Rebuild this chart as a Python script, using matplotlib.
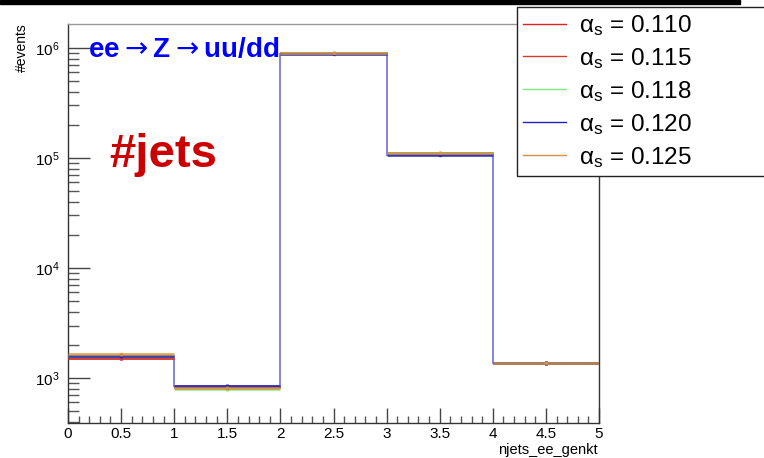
import numpy as np
import matplotlib
matplotlib.use("Agg")
import matplotlib.pyplot as plt
from matplotlib.patches import Rectangle
from matplotlib.ticker import FixedLocator, LogLocator, MultipleLocator, NullFormatter

plt.rcParams['font.family'] = ['Liberation Sans', 'DejaVu Sans']
plt.rcParams['mathtext.fontset'] = 'custom'
plt.rcParams['mathtext.rm'] = 'Liberation Sans'
plt.rcParams['mathtext.it'] = 'Liberation Sans'
plt.rcParams['mathtext.bf'] = 'Liberation Sans:bold'

# ---- data ----
bin_edges = [0, 1, 2, 3, 4, 5]
alpha_labels = ["0.110", "0.115", "0.118", "0.120", "0.125"]
counts_0110 = [1520, 830, 890000, 110000, 1370]
counts_0115 = [1530, 820, 890000, 110000, 1370]
counts_0118 = [1600, 800, 890000, 110000, 1370]
counts_0120 = [1590, 845, 885000, 107000, 1370]
counts_0125 = [1640, 810, 890000, 111000, 1380]
errors = [60, 40, 2500, 800, 45]
x_tick_labels = ["0", "0.5", "1", "1.5", "2", "2.5", "3", "3.5", "4", "4.5", "5"]
y_tick_labels = [r"$10^{3}$", r"$10^{4}$", r"$10^{5}$", r"$10^{6}$"]

series = [counts_0110, counts_0115, counts_0118, counts_0120, counts_0125]
colors = ["#e02020", "#d83a2a", "#7ee87e", "#2020c0", "#d4923e"]

W, H = 764, 458
fig = plt.figure(figsize=(W / 100, H / 100), dpi=100)
ax = fig.add_axes([68 / W, 1 - 423 / H, (599 - 68) / W, (423 - 24) / H])

edges = np.array(bin_edges, dtype=float)
centers = 0.5 * (edges[:-1] + edges[1:])
halfw = 0.5 * np.diff(edges)

handles = []
for i in range(len(series)):
    vals = np.array(series[i], dtype=float)
    c = colors[i]
    if i == 3:
        ax.stairs(vals, edges, baseline=None, color=c, lw=1.4, alpha=0.55, zorder=2)
    ax.errorbar(centers, vals, xerr=halfw, yerr=errors, fmt='s', ms=1.5,
                color=c, ecolor=c, elinewidth=2.0, capsize=0, alpha=0.8,
                zorder=3 + i)
    h, = ax.plot([], [], color=c, lw=1.0)
    handles.append(h)

ax.set_yscale('log')
ax.set_xlim(0, 5)
ax.set_ylim(390, 1.65e6)

ax.set_xticks(np.arange(0, 5.01, 0.5))
ax.set_xticklabels(x_tick_labels)
ax.xaxis.set_minor_locator(MultipleLocator(0.1))
ax.yaxis.set_major_locator(FixedLocator([1e3, 1e4, 1e5, 1e6]))
ax.set_yticklabels(y_tick_labels)
ax.yaxis.set_minor_locator(LogLocator(base=10, subs=np.arange(2, 10)))
ax.yaxis.set_minor_formatter(NullFormatter())

ax.tick_params(axis='x', which='major', direction='in', length=11, width=1,
               color='#444444', labelsize=11, top=False, pad=3)
ax.tick_params(axis='x', which='minor', direction='in', length=5, width=1,
               color='#555555', top=False)
ax.tick_params(axis='y', which='major', direction='in', length=16, width=1,
               color='#444444', labelsize=11, right=False, pad=6)
ax.tick_params(axis='y', which='minor', direction='in', length=8, width=1,
               color='#555555', right=False)

for s in ['left', 'right', 'bottom']:
    ax.spines[s].set_color('#333333')
    ax.spines[s].set_linewidth(1.0)
ax.spines['top'].set_color('#999999')
ax.spines['top'].set_linewidth(1.0)

# axis titles (ROOT-style, at axis ends)
fig.text(22 / W, 1 - 23 / H, "#events", rotation=90, ha='center', va='top',
         fontsize=10)
fig.text(598 / W, 1 - 454 / H, "njets_ee_genkt", ha='right', va='baseline',
         fontsize=10.5)

# annotations
fig.text(88 / W, 1 - 50 / H, r"ee${\rightarrow}$Z${\rightarrow}$uu/dd",
         color='#0000ff', fontsize=20, fontweight='bold', ha='left',
         va='center', math_fontfamily='dejavusans')
fig.text(109 / W, 1 - 155 / H, "#jets", color='#cc0000', fontsize=34,
         fontweight='bold', ha='left', va='center')

# legend
labels = [r"$\mathrm{\alpha}_{\mathrm{s}}$ = " + a for a in alpha_labels]
leg = fig.legend(handles, labels, loc='upper left',
                 bbox_to_anchor=(517 / W, 1 - 7 / H, (770 - 517) / W, 0.0),
                 mode='expand', frameon=True, fancybox=False, framealpha=1,
                 edgecolor='#222222', fontsize=17.5, handlelength=1.75,
                 handletextpad=0.55, labelspacing=0.33, borderpad=0.25,
                 borderaxespad=0.0)
leg.get_frame().set_linewidth(1.0)

# black bar at top
fig.patches.append(Rectangle((0, 1 - 3.5 / H), 740 / W, 3.5 / H,
                             transform=fig.transFigure, color='black',
                             zorder=10))

fig.savefig("out.png", dpi=100)
